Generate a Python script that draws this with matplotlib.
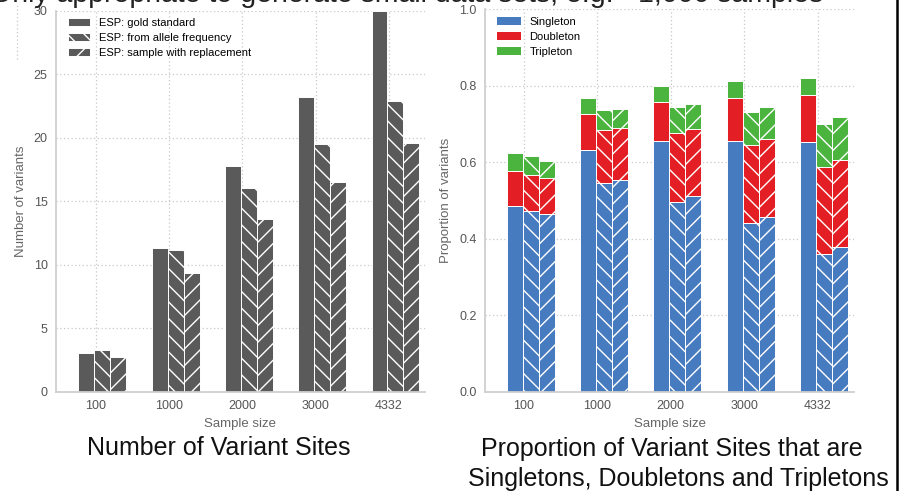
import matplotlib
matplotlib.use("Agg")
import matplotlib.pyplot as plt
from matplotlib.patches import Patch
from matplotlib.lines import Line2D
import numpy as np

# sample sizes (x categories)
sample_sizes = ["100", "1000", "2000", "3000", "4332"]

# left panel: number of variant sites
n_gold = [3.07, 11.34, 17.77, 23.18, 30.0]
n_allele = [3.31, 11.15, 16.04, 19.48, 22.86]
n_replace = [2.73, 9.32, 13.57, 16.51, 19.55]

# right panel: proportion of singletons / doubletons / tripletons
single_gold = [0.486, 0.633, 0.655, 0.656, 0.653]
double_gold = [0.091, 0.094, 0.103, 0.113, 0.123]
triple_gold = [0.048, 0.040, 0.041, 0.044, 0.044]

single_allele = [0.473, 0.545, 0.495, 0.440, 0.360]
double_allele = [0.094, 0.140, 0.182, 0.206, 0.228]
triple_allele = [0.049, 0.051, 0.068, 0.086, 0.112]

single_replace = [0.466, 0.554, 0.511, 0.457, 0.379]
double_replace = [0.092, 0.136, 0.176, 0.205, 0.228]
triple_replace = [0.046, 0.048, 0.065, 0.083, 0.111]

legend_left = ["ESP: gold standard", "ESP: from allele frequency",
               "ESP: sample with replacement"]
legend_right = ["Singleton", "Doubleton", "Tripleton"]

plt.rcParams["font.family"] = ["Liberation Sans", "DejaVu Sans"]
plt.rcParams["hatch.linewidth"] = 1.0

W, H = 903, 491
fig = plt.figure(figsize=(W / 100, H / 100), dpi=100)

gray = "#5a5a5a"
blue, red, green = "#477bc0", "#e31e24", "#4ab43f"
hatches = ["", "\\\\", "//"]
offsets = [-0.237, -0.019, 0.199]
bw = 0.218
x = np.arange(len(sample_sizes))


def style_axes(ax):
    for s in ["top", "right"]:
        ax.spines[s].set_visible(False)
    for s in ["left", "bottom"]:
        ax.spines[s].set_color("#cfcfcf")
        ax.spines[s].set_linewidth(1.3)
    ax.tick_params(length=0, labelsize=9, colors="#555555")
    ax.tick_params(axis="y", pad=6)
    ax.tick_params(axis="x", pad=6)
    ax.grid(True, linestyle=(0, (1, 2)), color="#c8c8c8", linewidth=0.9)
    ax.set_axisbelow(True)
    ax.set_xticks(x)
    ax.set_xticklabels(sample_sizes)


# ---- left panel
ax1 = fig.add_axes([56 / W, 1 - 391.7 / H, (425 - 56) / W, (391.7 - 10.5) / H])
for k, vals in enumerate([n_gold, n_allele, n_replace]):
    ax1.bar(x + offsets[k], vals, bw, align="edge", color=gray,
            edgecolor="white", linewidth=0.7, hatch=hatches[k])
ax1.set_xlim(-0.542, 4.493)
ax1.set_ylim(0, 30)
ax1.set_yticks([0, 5, 10, 15, 20, 25, 30])
style_axes(ax1)
ax1.set_xlabel("Sample size", fontsize=9.5, color="#666666", labelpad=4)
ax1.set_ylabel("Number of variants", fontsize=9.5, color="#666666")
ax1.yaxis.set_label_coords(-0.079, 0.5)
handles = [Patch(facecolor=gray, edgecolor="white", linewidth=0.7, hatch=h)
           for h in hatches]
ax1.legend(handles, legend_left, loc="upper left", frameon=False, fontsize=8,
           handlelength=2.0, handleheight=0.75, handletextpad=0.8,
           labelspacing=0.45, borderaxespad=0.3, bbox_to_anchor=(0.012, 1.0))

# ---- right panel
ax2 = fig.add_axes([485 / W, 1 - 391.7 / H, (854.3 - 485) / W, (391.7 - 9.3) / H])
groups = [(single_gold, double_gold, triple_gold),
          (single_allele, double_allele, triple_allele),
          (single_replace, double_replace, triple_replace)]
for k, (s, d, t) in enumerate(groups):
    s, d, t = np.array(s), np.array(d), np.array(t)
    for vals, base, c in [(s, 0, blue), (d, s, red), (t, s + d, green)]:
        ax2.bar(x + offsets[k], vals, bw, bottom=base, align="edge", color=c,
                edgecolor="white", linewidth=0.7, hatch=hatches[k])
ax2.set_xlim(-0.531, 4.50)
ax2.set_ylim(0, 1.0)
ax2.set_yticks([0.0, 0.2, 0.4, 0.6, 0.8, 1.0])
style_axes(ax2)
ax2.set_xlabel("Sample size", fontsize=9.5, color="#666666", labelpad=4)
ax2.set_ylabel("Proportion of variants", fontsize=9.5, color="#666666")
ax2.yaxis.set_label_coords(-0.090, 0.5)
handles2 = [Patch(facecolor=c, edgecolor="none") for c in [blue, red, green]]
ax2.legend(handles2, legend_right, loc="upper left", frameon=False, fontsize=8,
           handlelength=2.1, handleheight=0.75, handletextpad=0.8,
           labelspacing=0.45, borderaxespad=0.3, bbox_to_anchor=(0.012, 1.0))

# ---- slide text around the charts
fig.text(219 / W, 36 / H, "Number of Variant Sites", fontsize=18,
         ha="center", va="baseline", color="#111111")
fig.text(672 / W, 35 / H, "Proportion of Variant Sites that are", fontsize=18,
         ha="center", va="baseline", color="#111111")
fig.text(678 / W, 5 / H, "Singletons, Doubletons and Tripletons", fontsize=18,
         ha="center", va="baseline", color="#111111")
fig.text(823 / W, 1 - 1.5 / H,
         "Only appropriate to generate small data sets, e.g. ~1,000 samples",
         fontsize=20.5, ha="right", va="baseline", color="#222222")

fig.add_artist(Line2D([897 / W, 897 / W], [0, 1], color="black", linewidth=1.8,
                      transform=fig.transFigure))
fig.add_artist(Line2D([17.5 / W, 17.5 / W], [1 - 59 / H, 1 - 3 / H],
                      color="#c8c8c8", linestyle=(0, (1, 2)), linewidth=0.9,
                      transform=fig.transFigure))

fig.savefig("out.png", dpi=100)
